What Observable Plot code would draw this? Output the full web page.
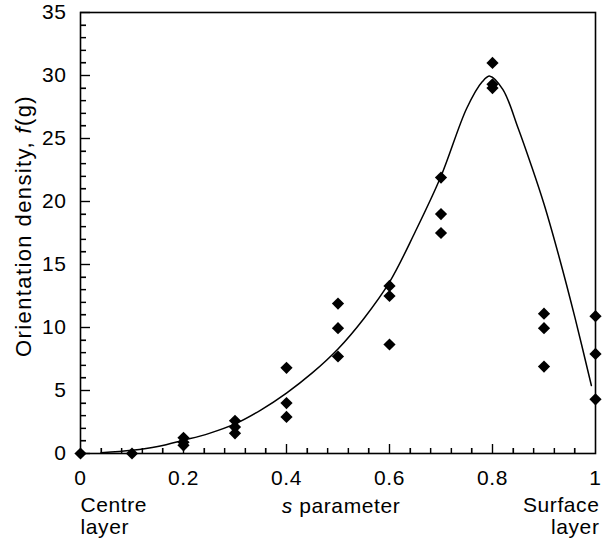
<!DOCTYPE html>
<html><head><meta charset="utf-8">
<script src="https://cdn.jsdelivr.net/npm/d3@7"></script>
<script src="https://cdn.jsdelivr.net/npm/@observablehq/plot@0.6"></script>
<style>body{margin:0;background:#fff} svg{display:block}</style>
</head><body><div id="chart"></div>
<script>
// measured points: s parameter and orientation density f(g)
const sPoints = [0, 0.1, 0.2, 0.2, 0.2, 0.3, 0.3, 0.3, 0.4, 0.4, 0.4, 0.5, 0.5, 0.5, 0.6, 0.6, 0.6, 0.7, 0.7, 0.7, 0.8, 0.8, 0.8, 0.9, 0.9, 0.9, 1, 1, 1];
const fPoints = [0, 0, 1.25, 0.9, 0.65, 2.6, 2.1, 1.6, 6.8, 4.0, 2.9, 11.9, 9.95, 7.7, 13.3, 12.5, 8.65, 21.9, 19.0, 17.5, 31.0, 29.3, 29.0, 11.1, 9.95, 6.9, 10.9, 7.9, 4.3];
// fitted curve
const curveS = [0.04, 0.1, 0.15, 0.2, 0.25, 0.3, 0.35, 0.4, 0.45, 0.5, 0.55, 0.6, 0.65, 0.7, 0.75, 0.78, 0.795, 0.82, 0.85, 0.875, 0.9, 0.93, 0.96, 0.992];
const curveF = [0.05, 0.25, 0.55, 1.05, 1.6, 2.35, 3.45, 4.8, 6.4, 8.3, 10.7, 13.6, 17.6, 22.0, 27.4, 29.5, 29.95, 28.9, 25.8, 22.9, 19.8, 15.5, 10.8, 5.4];
// ticks
const yMajor = [0, 5, 10, 15, 20, 25, 30, 35];
const yMinor = [1, 2, 3, 4, 6, 7, 8, 9, 11, 12, 13, 14, 16, 17, 18, 19, 21, 22, 23, 24, 26, 27, 28, 29, 31, 32, 33, 34];
const xLabels = [0, 0.2, 0.4, 0.6, 0.8, 1];
const xMajor = [0.2, 0.4, 0.6, 0.8];
const xMinor = [0.04, 0.08, 0.12, 0.16, 0.24, 0.28, 0.32, 0.36, 0.44, 0.48, 0.52, 0.56, 0.64, 0.68, 0.72, 0.76, 0.84, 0.88, 0.92, 0.96];
const yTitle = "Orientation density, f(g)";
const xTitle = "s parameter";
const leftNote = "Centre\nlayer";
const rightNote = "Surface\nlayer";

const points = sPoints.map((s, i) => ({s, f: fPoints[i]}));
const curve = curveS.map((s, i) => ({s, f: curveF[i]}));

const W = 602, H = 539, mL = 80, mR = 7, mT = 12, mB = 86;
const plotW = W - mL - mR, plotH = H - mT - mB;
const font = "Liberation Sans";
const fs = 21;
const chart = Plot.plot({
  width: W, height: H,
  marginLeft: mL, marginRight: mR, marginTop: mT, marginBottom: mB,
  style: {fontFamily: font, fontSize: fs + "px", color: "#000", background: "#fff", overflow: "visible", letterSpacing: "0.6px"},
  x: {domain: [0, 1]},
  y: {domain: [0, 35]},
  marks: [
    Plot.frame({stroke: "#000", strokeWidth: 1.6}),
    // inward ticks
    Plot.tickY(yMinor, {y: d => d, insetRight: plotW - 6, stroke: "#000", strokeWidth: 1.2}),
    Plot.tickY(yMajor, {y: d => d, insetRight: plotW - 10, stroke: "#000", strokeWidth: 1.2}),
    Plot.tickX(xMinor, {x: d => d, insetTop: plotH - 5, stroke: "#000", strokeWidth: 1.2}),
    Plot.tickX(xMajor, {x: d => d, insetTop: plotH - 9, stroke: "#000", strokeWidth: 1.2}),
    // tick labels
    Plot.axisY(yMajor, {tickSize: 0, tickPadding: 14, label: null, tickFormat: d => String(d)}),
    Plot.axisX(xLabels, {tickSize: 0, tickPadding: 17, label: null, tickFormat: d => String(d)}),
    Plot.line(curve, {x: "s", y: "f", curve: "catmull-rom", stroke: "#000", strokeWidth: 1.5}),
    Plot.dot(points, {x: "s", y: "f", symbol: "diamond2", r: 5.5, fill: "#000", stroke: "none"}),
    Plot.text([yTitle], {frameAnchor: "left", rotate: -90, dx: -57, dy: -7, textAnchor: "middle", fontSize: 22, className: "ytitle"}),
    Plot.text([xTitle], {frameAnchor: "bottom", dy: 59, dx: 3, className: "xtitle"}),
    Plot.text([leftNote], {frameAnchor: "bottom-left", dy: 43, textAnchor: "start", lineAnchor: "top", lineHeight: 1.05}),
    Plot.text([rightNote], {frameAnchor: "bottom-right", dx: 4, dy: 43, textAnchor: "end", lineAnchor: "top", lineHeight: 1.05})
  ]
});
document.getElementById("chart").appendChild(chart);
d3.select(chart).selectAll("g.ytitle text").style("letter-spacing", "1.4px");

// inward ticks placed through the plot's own scales (drawn on top)
try {
  const sx = chart.scale("x"), sy = chart.scale("y");
  const fx = sx.apply ? v => sx.apply(v) : d3.scaleLinear(sx.domain, sx.range);
  const fy = sy.apply ? v => sy.apply(v) : d3.scaleLinear(sy.domain, sy.range);
  const g = d3.select(chart).append("g").attr("stroke", "#000").attr("stroke-width", 1.2);
  const x0 = fx(0), y0 = fy(0);
  [[yMinor, 6], [yMajor, 10]].forEach(([vals, len]) => vals.forEach(v => {
    const y = Math.round(fy(v)) + 0.5;
    g.append("line").attr("x1", x0).attr("x2", x0 + len).attr("y1", y).attr("y2", y);
  }));
  [[xMinor, 5], [xMajor, 9]].forEach(([vals, len]) => vals.forEach(v => {
    const x = Math.round(fx(v)) + 0.5;
    g.append("line").attr("x1", x).attr("x2", x).attr("y1", y0).attr("y2", y0 - len);
  }));
} catch (e) {}

// italic parts of titles
function italicize(cls, full, italicPart) {
  d3.select(chart).selectAll("g." + cls + " text").each(function () {
    const t = d3.select(this);
    const idx = full.indexOf(italicPart);
    t.text(null);
    if (idx > 0) t.append("tspan").text(full.slice(0, idx));
    t.append("tspan").attr("font-style", "italic").text(italicPart);
    const rest = full.slice(idx + italicPart.length);
    if (rest) t.append("tspan").text(rest);
  });
}
italicize("ytitle", yTitle, "f");
italicize("xtitle", xTitle, "s");
</script>
</body></html>
